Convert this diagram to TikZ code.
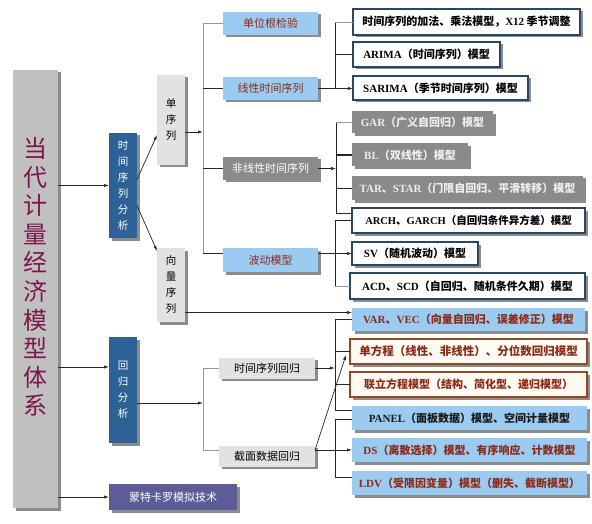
\documentclass[tikz,border=0pt]{standalone}
\usepackage{fontspec}
\setmainfont{Noto Sans CJK SC}
\newfontfamily\latf{Liberation Serif}
\usetikzlibrary{arrows.meta,shadows,calc}
\newcommand\ltn[1]{{\latf\bfseries #1}}
\definecolor{cMain}{RGB}{192,192,192}
\definecolor{cDBlue}{RGB}{46,98,150}
\definecolor{cLGray}{RGB}{226,226,226}
\definecolor{cLBlue}{RGB}{156,203,242}
\definecolor{cDGray}{RGB}{138,138,138}
\definecolor{cPurple}{RGB}{92,92,152}
\definecolor{cRed}{RGB}{140,42,22}
\definecolor{cTitle}{RGB}{125,22,78}
\definecolor{cBorder}{RGB}{40,70,102}
\definecolor{cBrown}{RGB}{150,72,32}
\definecolor{cPeach}{RGB}{255,250,243}
\definecolor{cLtext}{RGB}{238,238,238}
\begin{document}
\begin{tikzpicture}[x=1pt,y=-1pt,
  every node/.style={inner sep=0pt, outer sep=0pt},
  shad/.style={drop shadow={shadow xshift=2.5pt,shadow yshift=-2.5pt,fill=black,opacity=0.45}},
  mainbox/.style={fill=cMain, shad},
  vbox/.style={shad, align=center, font=\fontsize{10.5}{16}\selectfont},
  dblue/.style={vbox, fill=cDBlue, text=white},
  lgray/.style={vbox, fill=cLGray, text=black},
  mid/.style={shad, minimum width=95pt, minimum height=23pt, font=\fontsize{11}{13}\selectfont},
  lblue/.style={fill=cLBlue, text=cRed},
  dgray/.style={fill=cDGray, text=white},
  rbox/.style={shad, font=\fontsize{11}{13}\selectfont\bfseries},
  wbox/.style={rbox, fill=white, draw=cBorder, line width=1.6pt, text=black},
  pbox/.style={rbox, fill=cPeach, draw=cBrown, line width=1.2pt, text=cRed},
  gbox/.style={rbox, fill=cDGray, text=cLtext},
  bbox/.style={rbox, fill=cLBlue, text=cRed},
  conn/.style={draw=black!85, line width=0.7pt},
  gconn/.style={draw=black!40, line width=0.9pt},
  arr/.style={conn, -{Latex[length=5pt,width=3.2pt]}}
]
\useasboundingbox (0,0) rectangle (592,524);
% main
\node[mainbox, minimum width=45pt, minimum height=438pt] (main) at (35.5,289) {};
\node[text=cTitle, font=\fontsize{24}{28.6}\selectfont, align=center] (title) at (35.5,277) {当\\代\\计\\量\\经\\济\\模\\型\\体\\系};
% second column
\node[dblue, minimum width=28pt, minimum height=105pt] (tsa) at (123,185.5) {时\\间\\序\\列\\分\\析};
\node[dblue, minimum width=28pt, minimum height=106pt] (reg) at (123,390) {回\\归\\分\\析};
\node[shad, fill=cPurple, text=white, font=\fontsize{11}{13}\selectfont, minimum width=128pt, minimum height=26pt] (mc) at (173,497) {蒙特卡罗模拟技术};
\node[lgray, minimum width=28pt, minimum height=90pt] (single) at (171,120) {单\\序\\列};
\node[lgray, minimum width=28pt, minimum height=74pt] (vec) at (171,285) {向\\量\\序\\列};
% middle column
\node[mid, lblue] (urt) at (270.5,23.5) {单位根检验};
\node[mid, lblue] (lin) at (270.5,88.5) {线性时间序列};
\node[mid, dgray] (nonlin) at (270.5,168.5) {非线性时间序列};
\node[mid, lblue, minimum height=24pt] (vol) at (270.5,260) {波动模型};
\node[mid, fill=cLGray, text=black, minimum width=96pt, minimum height=21pt] (tsr) at (267,368) {时间序列回归};
\node[mid, fill=cLGray, text=black, minimum width=96pt, minimum height=21pt] (csr) at (267,456) {截面数据回归};
% right column
\node[wbox, minimum width=227pt, minimum height=26pt] (b1) at (466.5,22) {时间序列的加法、乘法模型，\ltn{X12} 季节调整};
\node[wbox, minimum width=147pt, minimum height=25pt] (b2) at (426.5,54.5) {\ltn{ARIMA}（时间序列）模型};
\node[wbox, minimum width=175pt, minimum height=24pt] (b3) at (440.5,88) {\ltn{SARIMA}（季节时间序列）模型};
\node[gbox, minimum width=141pt, minimum height=22pt] (gar) at (422.5,122.5) {\ltn{GAR}（广义自回归）模型};
\node[gbox, minimum width=116pt, minimum height=23pt] (bl) at (410,155) {\ltn{BL}（双线性）模型};
\node[gbox, minimum width=231pt, minimum height=24pt] (tar) at (467.5,188) {\ltn{TAR}、\ltn{STAR}（门限自回归、平滑转移）模型};
\node[wbox, font=\fontsize{10.5}{13}\selectfont\bfseries, minimum width=233pt, minimum height=25pt] (arch) at (468.5,220.5) {\ltn{ARCH}、\ltn{GARCH}（自回归条件异方差）模型};
\node[wbox, minimum width=126pt, minimum height=23pt] (sv) at (415,253.5) {\ltn{SV}（随机波动）模型};
\node[wbox, minimum width=235pt, minimum height=26pt] (acd) at (467.5,286) {\ltn{ACD}、\ltn{SCD}（自回归、随机条件久期）模型};
\node[bbox, minimum width=233pt, minimum height=23pt] (var) at (468.5,319.5) {\ltn{VAR}、\ltn{VEC}（向量自回归、误差修正）模型};
\node[pbox, font=\fontsize{11.5}{13}\selectfont\bfseries, minimum width=237pt, minimum height=25pt] (eq1) at (468.5,351.5) {单方程（线性、非线性）、分位数回归模型};
\node[pbox, minimum width=237pt, minimum height=25pt] (eq2) at (468.5,384.5) {联立方程模型（结构、简化型、递归模型）};
\node[bbox, text=black!90, minimum width=235pt, minimum height=24pt] (panel) at (469.5,418) {\ltn{PANEL}（面板数据）模型、空间计量模型};
\node[bbox, minimum width=235pt, minimum height=24pt] (ds) at (469.5,450) {\ltn{DS}（离散选择）模型、有序响应、计数模型};
\node[bbox, minimum width=235pt, minimum height=24pt] (ldv) at (469.5,483) {\ltn{LDV}（受限因变量）模型（删失、截断模型）};
% connectors: main
\coordinate (regin) at ($(reg.west)+(0,-23)$);
\draw[arr] (main.east |- tsa.west) -- (tsa.west);
\draw[arr] (main.east |- regin) -- (regin);
\draw[arr] (main.east |- mc.west) -- (mc.west);
\draw[arr] ($(tsa.east)+(0,-6)$) -- ($(single.west)+(0,15)$);
\draw[arr] ($(tsa.east)+(0,20)$) -- ($(vec.west)+(0,-34)$);
% single series tree
\coordinate (s1) at (203,132);
\coordinate (volin) at (vol.west |- sv.west);
\draw[arr] (single.east |- s1) -- (s1);
\draw[gconn] (s1 |- urt.west) -- (s1 |- volin);
\draw[gconn] (s1 |- urt.west) -- (urt.west);
\draw[conn] (s1 |- lin.west) -- (lin.west);
\draw[conn] (s1 |- nonlin.west) -- (nonlin.west);
\draw[conn] (s1 |- volin) -- (volin);
% linear group
\coordinate (s2) at (335,0);
\draw[conn] (s2 |- b1.west) -- (s2 |- b3.west);
\draw[gconn] (s2 |- b1.west) -- (b1.west);
\draw[conn] (s2 |- b2.west) -- (b2.west);
\draw[arr] (lin.east) -- (lin.east -| b3.west);
% nonlinear group
\coordinate (s3) at (336,168.5);
\coordinate (archtop) at ($(arch.west)+(0,-7)$);
\draw[conn] (s3 |- gar.west) -- (s3 |- archtop);
\draw[gconn] (s3 |- gar.west) -- (gar.west);
\draw[conn, line width=1.2pt] (s3 |- bl.west) -- (bl.west);
\draw[conn] (s3 |- tar.west) -- (tar.west);
\draw[conn] (s3 |- archtop) -- (archtop);
\draw[arr] (nonlin.east) -- (s3);
% volatility group
\draw[conn] (s2 |- arch.west) -- (s2 |- acd.west);
\draw[conn] (s2 |- arch.west) -- (arch.west);
\draw[gconn] (s2 |- acd.west) -- (acd.west);
\draw[arr] (vol.east |- sv.west) -- (sv.west);
% vector series
\coordinate (varin) at ($(var.west)+(0,-7)$);
\draw[arr] (vec.east |- varin) -- (varin);
% regression tree
\coordinate (s5) at (203,403);
\draw[arr] (reg.east |- s5) -- (s5);
\draw[gconn] (s5 |- tsr.west) -- (s5 |- ds.west);
\draw[gconn] (s5 |- tsr.west) -- (tsr.west);
\draw[gconn] (s5 |- ds.west) -- (csr.west |- ds.west);
% time series regression group
\coordinate (paneltop) at ($(panel.west)+(0,-8)$);
\coordinate (panelbot) at ($(panel.west)+(0,1)$);
\coordinate (ldvin) at ($(ldv.west)+(0,-6)$);
\draw[conn] (s2 |- var.west) -- (s2 |- paneltop);
\draw[conn] (s2 |- var.west) -- (var.west);
\draw[conn] (s2 |- eq1.west) -- (eq1.west);
\draw[conn] (s2 |- eq2.west) -- (eq2.west);
\draw[conn] (s2 |- paneltop) -- (paneltop);
\draw[arr] (tsr.east) -- (tsr.east -| s2);
% cross-section group
\draw[conn] (s2 |- panelbot) -- (s2 |- ldvin);
\draw[conn] (s2 |- panelbot) -- (panelbot);
\draw[conn] (s2 |- ldvin) -- (ldvin);
\draw[arr] (csr.east |- ds.west) -- (ds.west);
\draw[arr] (csr.east |- ds.west) -- ($(eq1.south west)+(-4,-9)$);
\end{tikzpicture}
\end{document}
